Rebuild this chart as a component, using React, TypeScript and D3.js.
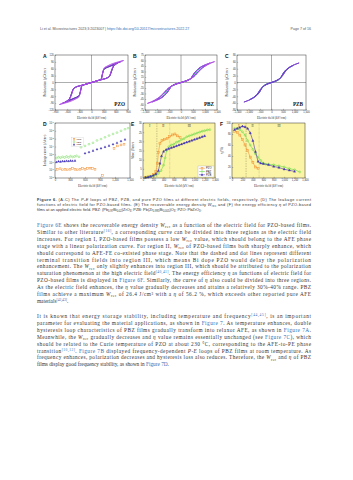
import React, { useRef, useEffect } from 'react';
import * as d3 from 'd3';

// ---- P-E loops (descending branch, E kV/cm, P uC/cm2); ascending branch is the point reflection
const pzoLoops = [
  { color: '#35308a', pts: [[560, 78], [480, 72], [400, 66], [330, 60], [290, 50], [260, 28], [230, 13], [150, 8], [0, 0], [-150, -8], [-300, -15], [-400, -21], [-450, -28], [-490, -46], [-520, -62], [-560, -78]] },
  { color: '#5a2fb8', pts: [[650, 85], [560, 80], [460, 72], [370, 65], [300, 57], [265, 34], [235, 14], [150, 8], [0, 0], [-150, -8], [-300, -15], [-400, -21], [-450, -29], [-490, -48], [-530, -66], [-590, -78], [-650, -85]] },
  { color: '#8a38d6', pts: [[720, 90], [620, 85], [510, 78], [410, 70], [320, 62], [275, 40], [240, 15], [150, 8], [0, 0], [-150, -8], [-300, -15], [-400, -22], [-450, -30], [-490, -50], [-530, -68], [-620, -82], [-720, -90]] },
  { color: '#b04de8', pts: [[790, 96], [700, 92], [580, 86], [470, 79], [380, 71], [310, 63], [275, 42], [245, 16], [150, 8], [0, 0], [-150, -8], [-300, -15], [-400, -22], [-450, -31], [-490, -52], [-530, -70], [-620, -83], [-700, -90], [-790, -96]] },
];
const pbzLoops = [
  { color: '#2fa0a0', pts: [[800, 40], [650, 33], [520, 22], [420, 12], [300, 6], [150, 3], [0, 0], [-150, -3], [-300, -7], [-450, -13], [-600, -24], [-700, -33], [-800, -40]] },
  { color: '#3550c8', pts: [[1000, 47], [800, 41], [650, 33], [520, 22], [420, 12], [300, 6], [150, 3], [0, 0], [-150, -3], [-300, -7], [-450, -12], [-600, -21], [-750, -32], [-880, -41], [-1000, -47]] },
  { color: '#7b3fd2', pts: [[1200, 53], [1000, 48], [800, 41], [650, 33], [520, 22], [420, 12], [300, 6], [150, 3], [0, 0], [-150, -3], [-300, -7], [-450, -12], [-600, -20], [-750, -31], [-900, -40], [-1050, -47], [-1200, -53]] },
  { color: '#b24fe6', pts: [[1400, 57], [1200, 53], [1000, 48], [800, 41], [650, 33], [520, 22], [420, 12], [300, 6], [150, 3], [0, 0], [-150, -3], [-300, -7], [-450, -12], [-600, -20], [-750, -31], [-900, -40], [-1100, -48], [-1250, -53], [-1400, -57]] },
];
const pzbLoops = [
  { color: '#58c878', pts: [[700, 40], [560, 32], [450, 20], [350, 10], [220, 5], [0, 0], [-220, -5], [-350, -11], [-480, -22], [-600, -33], [-700, -40]] },
  { color: '#3b50c8', pts: [[950, 50], [800, 45], [650, 38], [520, 28], [420, 16], [300, 8], [150, 3], [0, 0], [-150, -4], [-300, -9], [-450, -17], [-580, -30], [-700, -39], [-820, -45], [-950, -50]] },
  { color: '#7a3fd0', pts: [[1200, 57], [1000, 52], [800, 45], [650, 38], [520, 28], [420, 16], [300, 8], [150, 3], [0, 0], [-150, -4], [-300, -9], [-450, -17], [-580, -30], [-700, -40], [-850, -47], [-1000, -52], [-1200, -57]] },
];

// ---- D: leakage current (E kV/cm, J A/cm2)
const leakPZO = [[45, 1.3e-7], [100, 1.5e-7], [150, 1.1e-7], [200, 1.3e-7], [250, 1.1e-7], [300, 1.3e-7], [350, 1.6e-7], [400, 1.3e-7], [450, 1.1e-7], [500, 1.3e-7], [550, 1.6e-7], [600, 1.3e-7], [650, 1.6e-7], [700, 1.8e-7], [750, 1.6e-7], [800, 1.3e-7], [950, 2.2e-8], [1180, 6e-5], [1250, 1.2e-4], [1320, 1.6e-4], [1380, 2e-4]];
const leakPBZ = [[30, 3.5e-6], [70, 4.5e-6], [110, 3.8e-6], [150, 5e-6], [190, 4e-6], [230, 5.5e-6], [270, 4.2e-6], [310, 6e-6], [350, 4.8e-6], [390, 5.5e-6], [430, 6.5e-6], [480, 5e-6], [520, 8e-5], [600, 1.2e-4], [680, 2e-4], [760, 3e-4], [840, 6e-4], [920, 9e-4], [1000, 1.5e-3], [1080, 2.5e-3], [1160, 4e-3], [1240, 6e-3], [1320, 1e-2], [1400, 1.6e-2], [1460, 2.2e-2]];
const leakPZB = [[30, 1.1e-6], [70, 1.3e-6], [110, 1.2e-6], [150, 1.4e-6], [190, 1.3e-6], [230, 1.5e-6], [270, 1.4e-6], [310, 1.6e-6], [350, 1.5e-6], [400, 1.6e-6], [600, 1.4e-5], [680, 2e-5], [760, 3e-5], [840, 4.5e-5], [920, 6e-5], [1000, 9e-5], [1080, 1.3e-4], [1160, 2e-4], [1240, 3e-4], [1320, 5e-4], [1400, 8e-4]];

// ---- E: recoverable energy density (E kV/cm, Wrec J/cm3)
const wrecPZO = [[50, 0.3], [100, 0.6], [150, 1.0], [200, 1.8], [250, 3.5], [280, 8], [300, 14], [330, 19], [370, 20.5], [420, 21], [470, 21.5], [520, 22.5], [570, 23.5], [620, 24], [670, 23], [720, 22]];
const wrecPBZ = [[50, 0.3], [100, 0.5], [150, 0.8], [200, 1.2], [250, 1.7], [300, 2.5], [350, 4], [400, 7], [430, 11], [460, 15], [500, 17], [550, 18], [600, 18.5], [650, 19.5], [700, 20], [750, 21], [800, 21.5], [850, 22.5], [900, 23], [950, 23.5], [1000, 24], [1050, 24.5], [1100, 25], [1150, 25.5], [1200, 25.8], [1250, 26.2], [1300, 26.4]];
const wrecPZB = [[50, 0.3], [100, 0.5], [150, 0.9], [200, 1.4], [250, 2.2], [300, 4], [330, 8], [360, 12], [400, 14.5], [450, 15.5], [500, 16], [550, 16.5], [600, 17], [650, 17.5], [700, 18], [750, 18.5], [800, 19], [850, 19.5], [900, 20], [950, 20.5], [1000, 21], [1050, 21.5], [1100, 22], [1150, 22.5], [1200, 23]];

// ---- F: energy efficiency (E kV/cm, eta %)
const etaPZO = [[50, 85], [100, 83], [150, 78], [200, 70], [250, 60], [300, 50], [350, 38], [400, 28], [450, 20], [500, 17]];
const etaPBZ = [[50, 90], [100, 90], [150, 88], [200, 84], [250, 78], [300, 68], [350, 60], [400, 52], [450, 44], [500, 38], [550, 32], [600, 27], [650, 25], [700, 25], [800, 24], [900, 22], [1000, 20], [1100, 17], [1200, 15], [1300, 11]];
const etaPZB = [[50, 88], [100, 90], [150, 92], [200, 94], [250, 93], [300, 90], [350, 82], [400, 68], [450, 48], [500, 30], [550, 27], [600, 26], [700, 24], [800, 21], [900, 19], [1000, 16], [1100, 14], [1200, 12]];

const regionLines = [270, 520];
const fieldTicks = [0, 200, 400, 600, 800, 1000, 1200, 1400];
const wrecTicks = [0, 5, 10, 15, 20, 25, 30];
const etaTicks = [0, 20, 40, 60, 80, 100];
const leakTicks = [1e-8, 1e-7, 1e-6, 1e-5, 1e-4, 1e-3, 1e-2, 1e-1];
const leakFieldTicks = [0, 300, 600, 900, 1200, 1500];
const seriesNames = ['PZO', 'PBZ', 'PZB'];
const seriesColors = ['#f28c28', '#62d944', '#4b3ad0'];

// ---- text
const header = 'Li et al. Microstructures 2023;3:2023007';
const headerUrl = 'https://dx.doi.org/10.20517/microstructures.2022.27';
const pageNo = 'Page 7 of 16';
const caption = [
  '<b>Figure 6.</b> (A-C) The <i>P-E</i> loops of PBZ, PZB, and pure PZO films at different electric fields, respectively. (D) The leakage current',
  'functions of electric field for PZO-based films. (E) The recoverable energy density <i>W</i><sub>rec</sub> and (F) the energy efficiency <i>η</i> of PZO-based',
  'films at an applied electric field. PBZ: (Pb<sub>0.97</sub>Bi<sub>0.02</sub>)ZrO<sub>3</sub>; PZB: Pb(Zr<sub>0.995</sub>Bi<sub>0.005</sub>)O<sub>3</sub>; PZO: PbZrO<sub>3</sub>.',
];
const para1 = [
  '<a>Figure 6E</a> shows the recoverable energy density <i>W</i><sub>rec</sub> as a function of the electric field for PZO-based films.',
  'Similar to other literature<sup>[16]</sup>, a corresponding curve can be divided into three regions as the electric field',
  'increases. For region I, PZO-based films possess a low <i>W</i><sub>rec</sub> value, which should belong to the AFE phase',
  'stage with a linear polarization curve. For region II, <i>W</i><sub>rec</sub> of PZO-based films both sharply enhance, which',
  'should correspond to AFE-FE co-existed phase stage. Note that the dashed and dot lines represent different',
  'terminal transition fields into region III, which means Bi dope PZO would delay the polarization',
  'enhancement. The <i>W</i><sub>rec</sub> only slightly enhances into region III, which should be attributed to the polarization',
  'saturation phenomenon at the high electric field<sup>[40,41]</sup>. The energy efficiency <i>η</i> as functions of electric field for',
  'PZO-based films is displayed in <a>Figure 6F</a>. Similarly, the curve of <i>η</i> also could be divided into three regions.',
  'As the electric field enhances, the <i>η</i> value gradually decreases and attains a relatively 30%-40% range. PBZ',
  'films achieve a maximum <i>W</i><sub>rec</sub> of 26.4 J/cm³ with a <i>η</i> of 56.2 %, which exceeds other reported pure AFE',
  'materials<sup>[42,43]</sup>.',
];
const para2 = [
  'It is known that energy storage stability, including temperature and frequency<sup>[44,45]</sup>, is an important',
  'parameter for evaluating the material applications, as shown in <a>Figure 7</a>. As temperature enhances, double',
  'hysteresis loop characteristics of PBZ films gradually transform into relaxor AFE, as shown in <a>Figure 7A</a>.',
  'Meanwhile, the <i>W</i><sub>rec</sub> gradually decreases and <i>η</i> value remains essentially unchanged (see <a>Figure 7C</a>), which',
  'should be related to the Curie temperature of PZO at about 230 °C, corresponding to the AFE-to-PE phase',
  'transition<sup>[10,12]</sup>. <a>Figure 7B</a> displayed frequency-dependent <i>P-E</i> loops of PBZ films at room temperature. As',
  'frequency enhances, polarization decreases and hysteresis loss also reduces. Therefore, the <i>W</i><sub>rec</sub> and <i>η</i> of PBZ',
  'films display good frequency stability, as shown in <a>Figure 7D</a>.',
];

const SANS = 'Liberation Sans, Arial, sans-serif';
const SERIF = 'Liberation Serif, Times New Roman, serif';
const LINK = '#2f6db5';

type Sel = d3.Selection<any, unknown, null, undefined>;

function richText(g: Sel, str: string, x: number, y: number, size: number, fill: string, family: string, width?: number) {
  const t = g.append('text').attr('x', x).attr('y', y).attr('font-size', size).attr('font-family', family).attr('fill', fill);
  const re = /<(i|b|sub|sup|a)>(.*?)<\/\1>/g;
  let last = 0;
  let shift = 0;
  let m: RegExpExecArray | null;
  const add = (txt: string, kind: string) => {
    if (!txt) return;
    const sp = t.append('tspan').text(txt);
    let target = 0;
    if (kind === 'sub') target = size * 0.25;
    if (kind === 'sup') target = -size * 0.35;
    if (target !== shift) sp.attr('dy', target - shift);
    shift = target;
    if (kind === 'sub' || kind === 'sup') sp.attr('font-size', size * 0.68);
    if (kind === 'i') sp.attr('font-style', 'italic');
    if (kind === 'b') sp.attr('font-weight', 'bold');
    if (kind === 'a' || kind === 'sup') sp.attr('fill', LINK);
  };
  while ((m = re.exec(str))) {
    add(str.slice(last, m.index), 'n');
    add(m[2], m[1]);
    last = re.lastIndex;
  }
  add(str.slice(last), 'n');
  // justified lines get the full width; short lines keep their own width (same rendering path)
  const natural = (t.node() as SVGTextElement).getComputedTextLength();
  t.attr('textLength', width || natural).attr('lengthAdjust', 'spacing');
}

interface Box { x0: number; x1: number; y0: number; y1: number }

function styleAxis(g: Sel) {
  g.selectAll('text').attr('font-size', 2.6).attr('font-family', SANS).attr('fill', '#333');
  g.selectAll('line').attr('stroke', '#444').attr('stroke-width', 0.3);
  g.select('.domain').remove();
}

function frameAxes(svg: Sel, b: Box, x: any, y: any, xTicks: number[], yTicks: number[], yFmt: (d: any) => string, xTitle: string, yTitle: string, letter: string) {
  svg.append('g').attr('transform', `translate(0,${b.y1})`)
    .call(d3.axisBottom(x).tickValues(xTicks).tickSizeInner(-1.2).tickSizeOuter(0).tickPadding(1.2))
    .call(styleAxis);
  svg.append('g').attr('transform', `translate(${b.x0},0)`)
    .call(d3.axisLeft(y).tickValues(yTicks).tickFormat(yFmt).tickSizeInner(-1.2).tickSizeOuter(0).tickPadding(1.2))
    .call(styleAxis);
  svg.append('rect').attr('x', b.x0).attr('y', b.y0).attr('width', b.x1 - b.x0).attr('height', b.y1 - b.y0)
    .attr('fill', 'none').attr('stroke', '#333').attr('stroke-width', 0.5);
  svg.append('text').attr('x', (b.x0 + b.x1) / 2).attr('y', b.y1 + 8.5).attr('text-anchor', 'middle')
    .attr('font-size', 3.3).attr('font-family', SERIF).attr('fill', '#333').text(xTitle);
  svg.append('text').attr('transform', `translate(${b.x0 - 9},${(b.y0 + b.y1) / 2}) rotate(-90)`).attr('text-anchor', 'middle')
    .attr('font-size', 3.2).attr('font-family', SERIF).attr('fill', '#333').text(yTitle);
  svg.append('text').attr('x', b.x0 - 12).attr('y', b.y0 + 3).attr('font-size', 5).attr('font-weight', 'bold')
    .attr('font-family', SANS).attr('fill', '#111').text(letter);
}

function loopPanel(svg: Sel, b: Box, xMax: number, xTicks: number[], yMax: number, yTicks: number[], loops: { color: string; pts: number[][] }[], name: string, letter: string) {
  const x = d3.scaleLinear().domain([-xMax, xMax]).range([b.x0, b.x1]);
  const y = d3.scaleLinear().domain([-yMax, yMax]).range([b.y1, b.y0]);
  svg.append('rect').attr('x', b.x0).attr('y', b.y0).attr('width', b.x1 - b.x0).attr('height', b.y1 - b.y0).attr('fill', '#fff');
  svg.append('line').attr('x1', x(0)).attr('x2', x(0)).attr('y1', b.y0).attr('y2', b.y1).attr('stroke', '#777').attr('stroke-width', 0.6);
  svg.append('line').attr('x1', b.x0).attr('x2', b.x1).attr('y1', y(0)).attr('y2', y(0)).attr('stroke', '#777').attr('stroke-width', 0.6);
  const line = d3.line<number[]>().x(d => x(d[0])).y(d => y(d[1])).curve(d3.curveMonotoneX);
  loops.forEach(l => {
    const down = [...l.pts].sort((a, c) => a[0] - c[0]);
    const up = l.pts.map(p => [-p[0], -p[1]]).sort((a, c) => a[0] - c[0]);
    [down, up].forEach(br => svg.append('path').attr('d', line(br)!).attr('fill', 'none').attr('stroke', l.color).attr('stroke-width', 0.9));
  });
  frameAxes(svg, b, x, y, xTicks, yTicks, d => String(d), 'Electric field (kV/cm)', 'Polarization (μC/cm²)', letter);
  svg.append('text').attr('x', b.x1 - 3).attr('y', b.y1 - 4).attr('text-anchor', 'end').attr('font-size', 5.2)
    .attr('font-weight', 'bold').attr('font-family', SERIF).attr('fill', '#111').text(name);
}

function marker(g: Sel, i: number, cx: number, cy: number, r: number) {
  const c = seriesColors[i];
  if (i === 0) g.append('rect').attr('x', cx - r).attr('y', cy - r).attr('width', 2 * r).attr('height', 2 * r).attr('fill', 'none').attr('stroke', c).attr('stroke-width', 0.45);
  else if (i === 1) g.append('circle').attr('cx', cx).attr('cy', cy).attr('r', r).attr('fill', 'none').attr('stroke', c).attr('stroke-width', 0.45);
  else g.append('path').attr('d', `M${cx},${cy - r * 1.2}L${cx + r * 1.1},${cy + r * 0.8}L${cx - r * 1.1},${cy + r * 0.8}Z`).attr('fill', c).attr('stroke', '#2d2190').attr('stroke-width', 0.3);
}

function supTick(d: any) {
  return '10^' + Math.round(Math.log10(d));
}

const App: React.FC = () => {
  const svgRef = useRef<SVGSVGElement | null>(null);

  useEffect(() => {
    if (!svgRef.current) return;
    const svg = d3.select(svgRef.current) as Sel;
    svg.selectAll('*').remove();
    svg.append('rect').attr('width', 353).attr('height', 480).attr('fill', '#fff');

    // header
    const hd = svg.append('text').attr('x', 40).attr('y', 30).attr('font-size', 3.6).attr('font-family', SANS).attr('fill', '#555');
    hd.append('tspan').text(header + ' | ');
    hd.append('tspan').attr('fill', LINK).text(headerUrl);
    svg.append('text').attr('x', 311).attr('y', 30).attr('text-anchor', 'end').attr('font-size', 3.6).attr('font-family', SANS).attr('fill', '#555').text(pageNo);

    // top row
    loopPanel(svg, { x0: 55, x1: 128, y0: 55, y1: 110 }, 900, [-900, -600, -300, 0, 300, 600, 900], 120, [-120, -90, -60, -30, 0, 30, 60, 90, 120], pzoLoops, 'PZO', 'A');
    loopPanel(svg, { x0: 145, x1: 217, y0: 55, y1: 110 }, 1500, [-1500, -1000, -500, 0, 500, 1000, 1500], 75, [-75, -60, -45, -30, -15, 0, 15, 30, 45, 60, 75], pbzLoops, 'PBZ', 'B');
    loopPanel(svg, { x0: 237, x1: 306, y0: 55, y1: 110 }, 1500, [-1500, -1000, -500, 0, 500, 1000, 1500], 80, [-80, -60, -40, -20, 0, 20, 40, 60, 80], pzbLoops, 'PZB', 'C');

    // D leakage
    {
      const b = { x0: 55, x1: 130, y0: 123, y1: 178 };
      const x = d3.scaleLinear().domain([0, 1500]).range([b.x0, b.x1]);
      const y = d3.scaleLog().domain([1e-8, 1e-1]).range([b.y1, b.y0]);
      svg.append('rect').attr('x', b.x0).attr('y', b.y0).attr('width', b.x1 - b.x0).attr('height', b.y1 - b.y0).attr('fill', '#fff');
      [leakPZO, leakPBZ, leakPZB].forEach((s, i) => s.forEach(d => marker(svg, i, x(d[0]), y(d[1]), 0.9)));
      frameAxes(svg, b, x, y, leakFieldTicks, leakTicks, supTick, 'Electric field (kV/cm)', 'Leakage current (A/cm²)', 'D');
      // rewrite log labels with superscripts
      svg.selectAll('text').filter(function () { return (d3.select(this).text() || '').startsWith('10^'); }).each(function () {
        const el = d3.select(this);
        const e = el.text().slice(3);
        el.text('10');
        el.append('tspan').attr('dy', -1).attr('font-size', 1.9).text(e);
      });
      const lg = svg.append('g');
      lg.append('rect').attr('x', x(330)).attr('y', y(1.5e-3)).attr('width', 12).attr('height', 9).attr('fill', '#fff').attr('stroke', '#aaa').attr('stroke-width', 0.2);
      seriesNames.forEach((n, i) => {
        const yy = y(1.5e-3) + 2 + i * 2.6;
        marker(lg, i, x(330) + 2.5, yy, 0.8);
        lg.append('text').attr('x', x(330) + 5).attr('y', yy + 0.9).attr('font-size', 2.4).attr('font-family', SANS).attr('fill', '#333').text(n);
      });
    }

    // E and F
    const perfPanel = (b: Box, series: number[][][], yDom: number[], yTicks: number[], yTitle: string, letter: string, legend: boolean) => {
      const x = d3.scaleLinear().domain([0, 1400]).range([b.x0, b.x1]);
      const y = d3.scaleLinear().domain(yDom).range([b.y1, b.y0]);
      svg.append('rect').attr('x', b.x0).attr('y', b.y0).attr('width', b.x1 - b.x0).attr('height', b.y1 - b.y0).attr('fill', '#fbf3a6');
      regionLines.forEach((v, i) => svg.append('line').attr('x1', x(v)).attr('x2', x(v)).attr('y1', b.y0).attr('y2', b.y1)
        .attr('stroke', '#6b6b40').attr('stroke-width', 0.35).attr('stroke-dasharray', i === 0 ? '1.5,1' : '0.5,0.8'));
      [['I', 130], ['II', 395], ['III', 900]].forEach(([t, v]) => svg.append('text').attr('x', x(v as number)).attr('y', b.y0 + 4)
        .attr('text-anchor', 'middle').attr('font-size', 3).attr('font-family', SERIF).attr('fill', '#222').text(t as string));
      const line = d3.line<number[]>().x(d => x(d[0])).y(d => y(d[1]));
      series.forEach((s, i) => {
        svg.append('path').attr('d', line(s)!).attr('fill', 'none').attr('stroke', i === 2 ? '#3a2aa8' : seriesColors[i]).attr('stroke-width', 0.55);
        s.forEach(d => marker(svg, i, x(d[0]), y(d[1]), 1.0));
      });
      frameAxes(svg, b, x, y, fieldTicks, yTicks, d => String(d), 'Electric field (kV/cm)', yTitle, letter);
      if (legend) {
        const lx = b.x1 - 17, ly = b.y1 - 12;
        svg.append('rect').attr('x', lx).attr('y', ly).attr('width', 16).attr('height', 11).attr('fill', '#fff').attr('stroke', '#999').attr('stroke-width', 0.25);
        seriesNames.forEach((n, i) => {
          const yy = ly + 2.3 + i * 3.2;
          svg.append('line').attr('x1', lx + 1).attr('x2', lx + 7).attr('y1', yy).attr('y2', yy).attr('stroke', seriesColors[i]).attr('stroke-width', 0.5);
          marker(svg, i, lx + 4, yy, 0.9);
          svg.append('text').attr('x', lx + 8).attr('y', yy + 1).attr('font-size', 2.7).attr('font-family', SANS).attr('fill', '#222').text(n);
        });
      }
    };
    perfPanel({ x0: 143, x1: 215, y0: 123, y1: 178 }, [wrecPZO, wrecPBZ, wrecPZB], [0, 30], wrecTicks, 'Wrec (J/cm³)', 'E', true);
    perfPanel({ x0: 232, x1: 305, y0: 123, y1: 178 }, [etaPZO, etaPBZ, etaPZB], [0, 100], etaTicks, 'η (%)', 'F', false);

    // caption and body text
    caption.forEach((l, i) => richText(svg, l, 37, 201 + i * 5, 3.9, '#333', SANS, i < 2 ? 274 : undefined));
    para1.forEach((l, i) => richText(svg, l, 37, 227 + i * 6.9, 5.3, '#333', SERIF, i < para1.length - 1 ? 274 : undefined));
    para2.forEach((l, i) => richText(svg, l, 37, 318 + i * 6.9, 5.3, '#333', SERIF, i < para2.length - 1 ? 274 : undefined));
  }, []);

  return (
    <div style={{ position: 'absolute', left: 0, top: 0, width: 353, height: 480 }}>
      <svg ref={svgRef} width={353} height={480} style={{ display: 'block' }} />
    </div>
  );
};

export default App;
